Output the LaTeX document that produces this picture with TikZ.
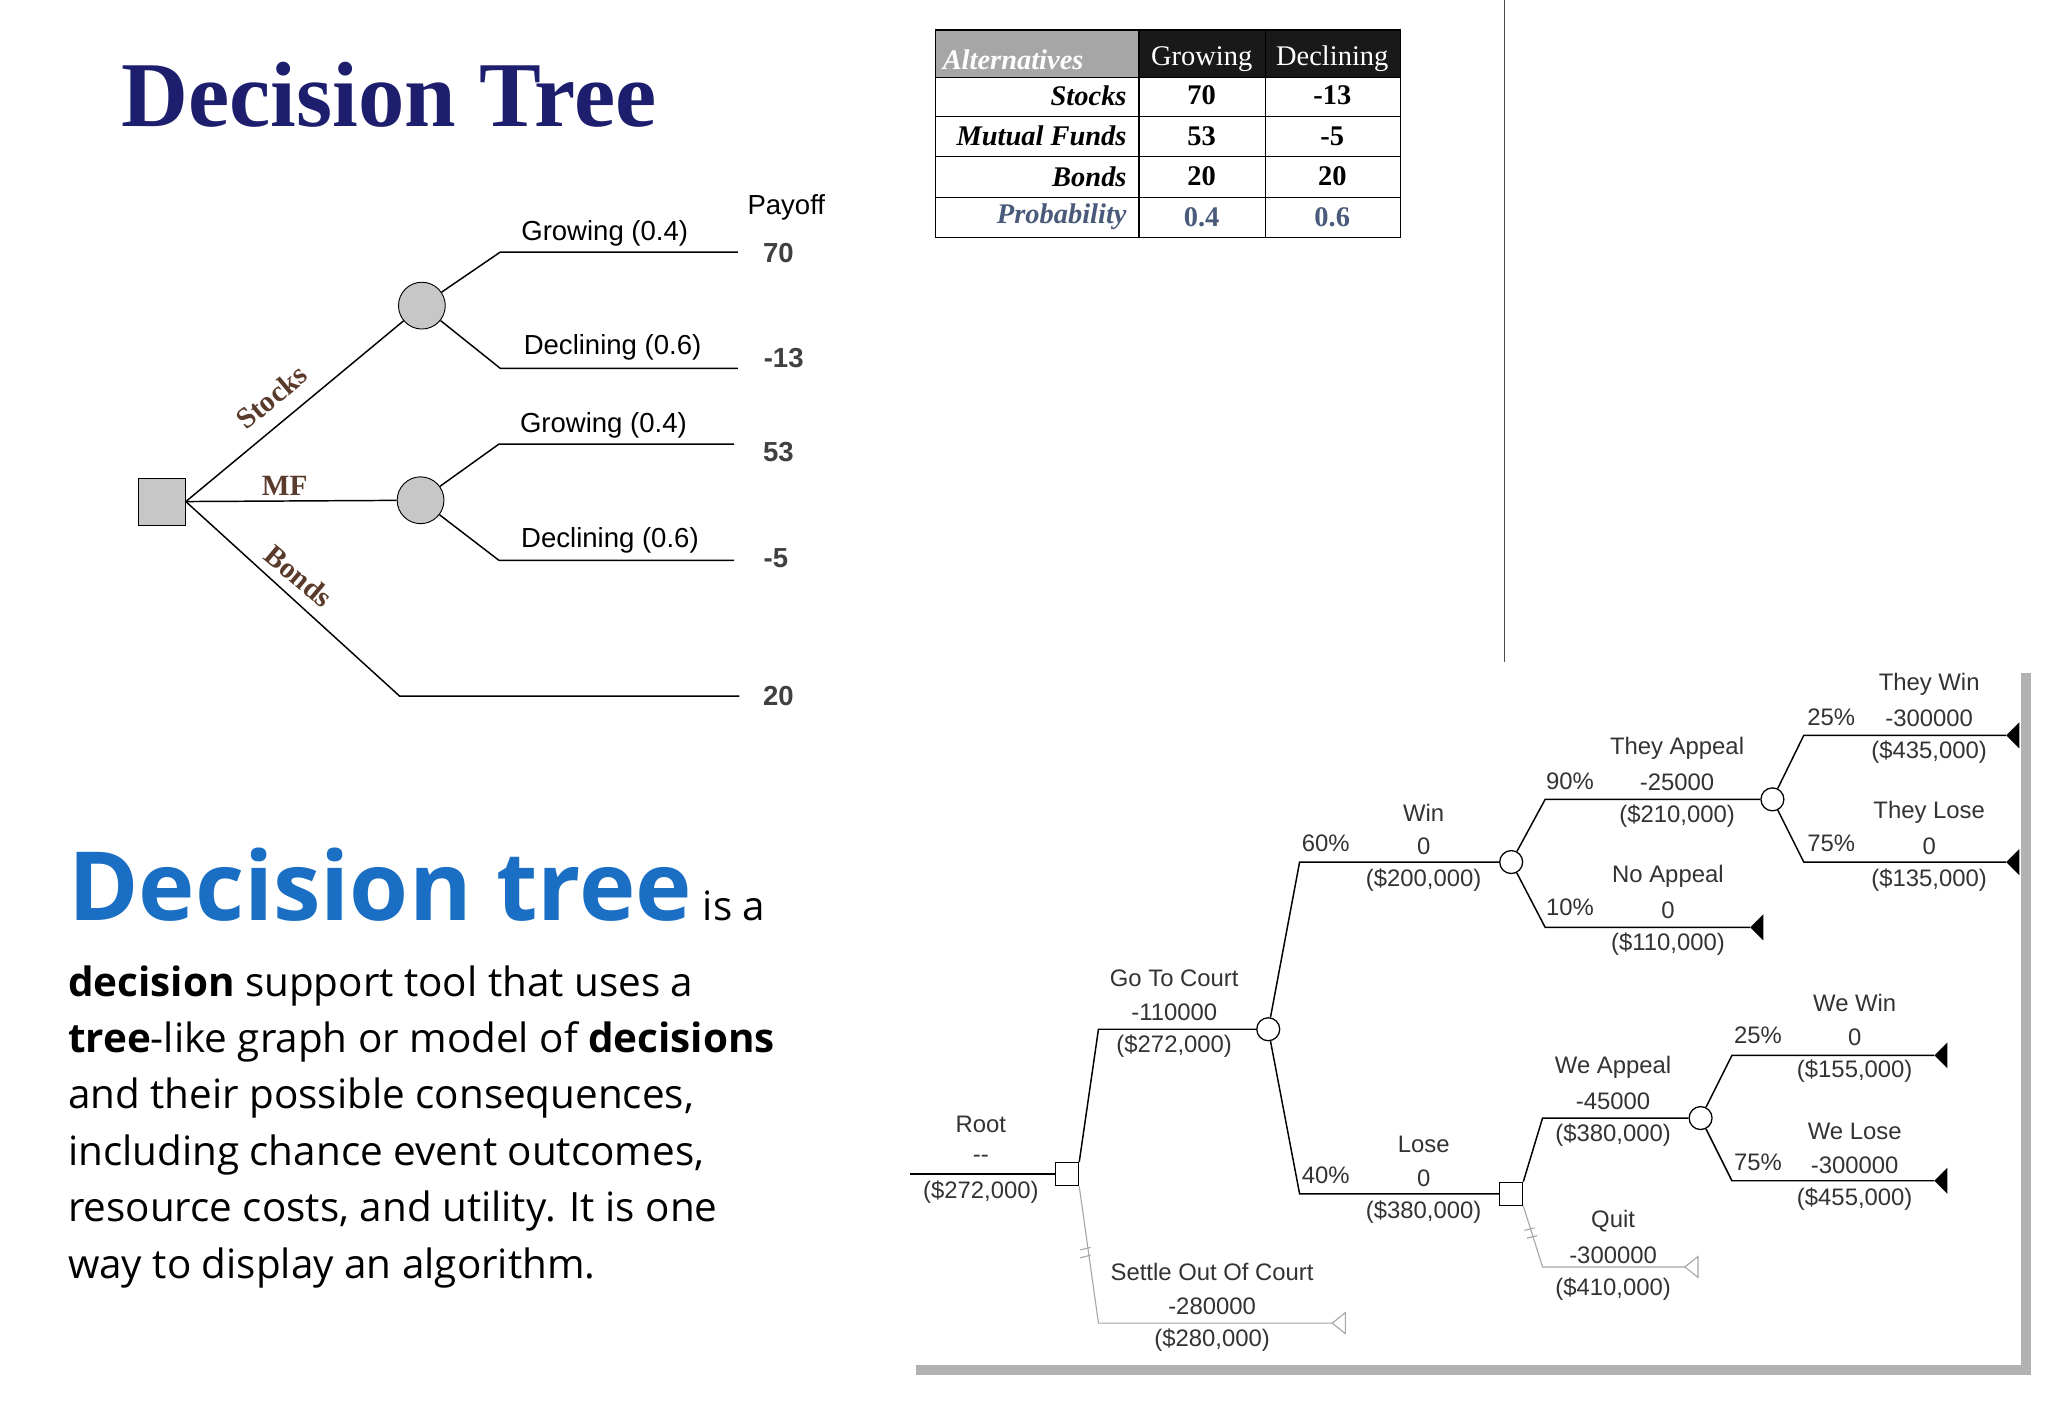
\documentclass[tikz,border=0pt]{standalone}
\usepackage{fontspec}
\setmainfont{Liberation Sans}
\newfontfamily\serifb{Liberation Serif}
\newfontfamily\osans{Open Sans}
\usetikzlibrary{shapes.geometric}
\definecolor{navy}{HTML}{1E1E6E}
\definecolor{brn}{HTML}{5A3A2A}
\definecolor{dtblue}{HTML}{1A6FC4}
\definecolor{probc}{HTML}{4A5A7A}
\begin{document}
\begin{tikzpicture}[x=0.05cm,y=-0.05cm,
 lt/.style={font=\fontsize{30}{34}\selectfont},
 pay/.style={font=\bfseries\fontsize{30}{34}\selectfont,text=black!75},
 brl/.style={font=\serifb\bfseries\fontsize{32}{36}\selectfont,text=brn},
 tl/.style={font=\serifb\fontsize{31}{34}\selectfont},
 tb/.style={font=\serifb\bfseries\itshape\fontsize{31}{34}\selectfont,anchor=east},
 rl/.style={font=\fontsize{26}{30}\selectfont,text=black!80},
 gr/.style={line width=1.2pt,draw=black!35},
 bl/.style={line width=1.6pt},
 cn/.style={circle,draw,line width=1.4pt,fill=white,minimum size=25,inner sep=0},
 sq/.style={rectangle,draw,line width=1.4pt,fill=white,minimum size=25,inner sep=0},
 body/.style={font=\osans\fontsize{44}{50}\selectfont,anchor=base west,inner sep=0}]
\useasboundingbox (0,0) rectangle (1568,1085);
\fill[white] (0,0) rectangle (1568,1085);
\draw[black!70,line width=1pt] (1152,0) -- (1152,507);
% panel
\fill[black!30] (701,515) rectangle (1555,1053);
\fill[white] (693,507) rectangle (1547,1045);
% title
\node[anchor=base west,inner sep=0,text=navy,font=\serifb\bfseries\fontsize{101}{105}\selectfont] (title) at (93,97) {Decision Tree};
% left tree
\node[rectangle,draw,fill=black!22,minimum size=51,inner sep=0,line width=1pt] (d) at (124,384) {};
\node[circle,draw,fill=black!22,minimum size=51,inner sep=0,line width=1pt] (c1) at (323,234) {};
\node[circle,draw,fill=black!22,minimum size=51,inner sep=0,line width=1pt] (c2) at (322,383) {};
\coordinate (bk) at (306,533);
\draw[bl] (d.east) -- (c1);
\draw[bl] (d.east) -- (c2);
\draw[bl] (d.east) -- (bk) -- (566,533);
\draw[bl] (c1) -- (383,193) -- (565,193);
\draw[bl] (c1) -- (383,282) -- (565,282);
\draw[bl] (c2) -- (382,340) -- (562,340);
\draw[bl] (c2) -- (382,429) -- (562,429);
\node[lt] (g1) at (463,179) {Growing (0.4)};
\node[lt] (d1) at (469,266) {Declining (0.6)};
\node[lt] (g2) at (462,326) {Growing (0.4)};
\node[lt] (d2) at (467,414) {Declining (0.6)};
\node[lt] (po) at (602,159) {Payoff};
\node[pay] (v1) at (596,194) {70};
\node[pay] (v2) at (600,274) {-13};
\node[pay] (v3) at (596,346) {53};
\node[pay] (v4) at (594,427) {-5};
\node[pay] (v5) at (596,533) {20};
\node[brl,rotate=40,inner sep=0] (st) at (208,304) {Stocks};
\node[brl,inner sep=0] (mf) at (218,372) {MF};
\node[brl,rotate=-40,inner sep=0] (bo) at (229,441) {Bonds};
% table
\fill[black!90] (716,23) rectangle (1072,59);
\fill[black!35] (716,23) rectangle (872,59);
\draw[line width=1.2pt] (716,23) rectangle (1072,182);
\foreach \y in {59,89,120,151} \draw[line width=1.2pt] (716,\y) -- (1072,\y);
\draw[line width=1.2pt] (872,23) -- (872,182);
\draw[line width=1.2pt] (969,23) -- (969,182);
\node[tb,text=white] (h0) at (832,46) {Alternatives};
\node[tl,text=white] (h1) at (920,45) {Growing};
\node[tl,text=white] (h2) at (1020,45) {Declining};
\node[tb] (r1) at (865,73) {Stocks};
\node[tb] (r2) at (865,104) {Mutual Funds};
\node[tb] (r3) at (865,135) {Bonds};
\node[tb,text=probc] (r4) at (865,166) {Probability};
\node[tl,font=\serifb\bfseries\fontsize{31}{34}\selectfont] at (920,73) {70};
\node[tl,font=\serifb\bfseries\fontsize{31}{34}\selectfont] at (1020,73) {-13};
\node[tl,font=\serifb\bfseries\fontsize{31}{34}\selectfont] at (920,104) {53};
\node[tl,font=\serifb\bfseries\fontsize{31}{34}\selectfont] at (1020,104) {-5};
\node[tl,font=\serifb\bfseries\fontsize{31}{34}\selectfont] at (920,135) {20};
\node[tl,font=\serifb\bfseries\fontsize{31}{34}\selectfont] at (1020,135) {20};
\node[tl,font=\serifb\bfseries\fontsize{31}{34}\selectfont,text=probc] at (920,166) {0.4};
\node[tl,font=\serifb\bfseries\fontsize{31}{34}\selectfont,text=probc] at (1020,166) {0.6};
% body text
\node[body] (t0) at (52,705) {\textcolor{dtblue}{\bfseries\fontsize{104}{104}\selectfont Decision tree} is a};
\node[body] (t1) at (52,763) {\bfseries decision\mdseries{} support tool that uses a};
\node[body] (t2) at (52,806) {\bfseries tree\mdseries-like graph or model of \bfseries decisions};
\node[body] (t3) at (52,849) {and their possible consequences,};
\node[body] (t4) at (52,892) {including chance event outcomes,};
\node[body] (t5) at (52,935) {resource costs, and utility. It is one};
\node[body] (t6) at (52,979) {way to display an algorithm.};
% right tree
\coordinate (rs) at (697,899);
\node[sq] (root) at (817,899) {};
\node[cn] (court) at (971,788) {};
\node[cn] (win) at (1157,660) {};
\node[sq] (lose) at (1157,914) {};
\node[cn] (tapp) at (1357,612) {};
\node[cn] (wapp) at (1302,856) {};
\draw[bl] (rs) -- (root.west);
\draw[bl] (root.north east) -- (841,788) -- (court.west);
\draw[gr] (root.south east) -- (841,1013) -- (1020,1013);
\draw[gr,fill=white] (1020,1013) -- (1030,1005) -- (1030,1021) -- cycle;
\draw[gr] (827,957)--(835,955) (827,963)--(835,961);
\draw[bl] (court) -- (995,660) -- (win.west);
\draw[bl] (court) -- (995,914) -- (lose.west);
\draw[bl] (win) -- (1183,612) -- (tapp.west);
\draw[bl] (win) -- (1183,710) -- (1340,710);
\fill (1340,710) -- (1350,700) -- (1350,720) -- cycle;
\draw[bl] (tapp) -- (1381,563) -- (1536,563);
\fill (1536,563) -- (1546,553) -- (1546,573) -- cycle;
\draw[bl] (tapp) -- (1381,660) -- (1536,660);
\fill (1536,660) -- (1546,650) -- (1546,670) -- cycle;
\draw[bl] (lose.north east) -- (1181,856) -- (wapp.west);
\draw[gr] (lose.south east) -- (1181,970) -- (1290,970);
\draw[gr,fill=white] (1290,970) -- (1300,962) -- (1300,978) -- cycle;
\draw[gr] (1167,942)--(1175,940) (1169,948)--(1177,946);
\draw[bl] (wapp) -- (1326,808) -- (1481,808);
\fill (1481,808) -- (1491,798) -- (1491,818) -- cycle;
\draw[bl] (wapp) -- (1326,904) -- (1481,904);
\fill (1481,904) -- (1491,894) -- (1491,914) -- cycle;
\foreach \x/\y/\a/\b/\c in {751/861/Root/{-}{-}/(\$272{,}000),
 899/749/Go To Court/-110000/(\$272{,}000),
 928/974/Settle Out Of Court/-280000/(\$280{,}000),
 1090/622/Win/0/(\$200{,}000),
 1090/876/Lose/0/(\$380{,}000),
 1284/573/They Appeal/-25000/(\$210{,}000),
 1277/671/No Appeal/0/(\$110{,}000),
 1477/524/They Win/-300000/(\$435{,}000),
 1477/622/They Lose/0/(\$135{,}000),
 1235/817/We Appeal/-45000/(\$380{,}000),
 1235/935/Quit/-300000/(\$410{,}000),
 1420/768/We Win/0/(\$155{,}000),
 1420/866/We Lose/-300000/(\$455{,}000)}
 {\node[rl] at (\x,\y) {\a}; \node[rl] at (\x,\y+26) {\b}; \node[rl] at (\x,\y+52) {\c};}
\foreach \x/\y/\p in {1015/646/60\%,1015/900/40\%,1202/598/90\%,1202/695/10\%,1402/549/25\%,1402/646/75\%,1346/793/25\%,1346/890/75\%}
 \node[rl] at (\x,\y) {\p};
\end{tikzpicture}
\end{document}
